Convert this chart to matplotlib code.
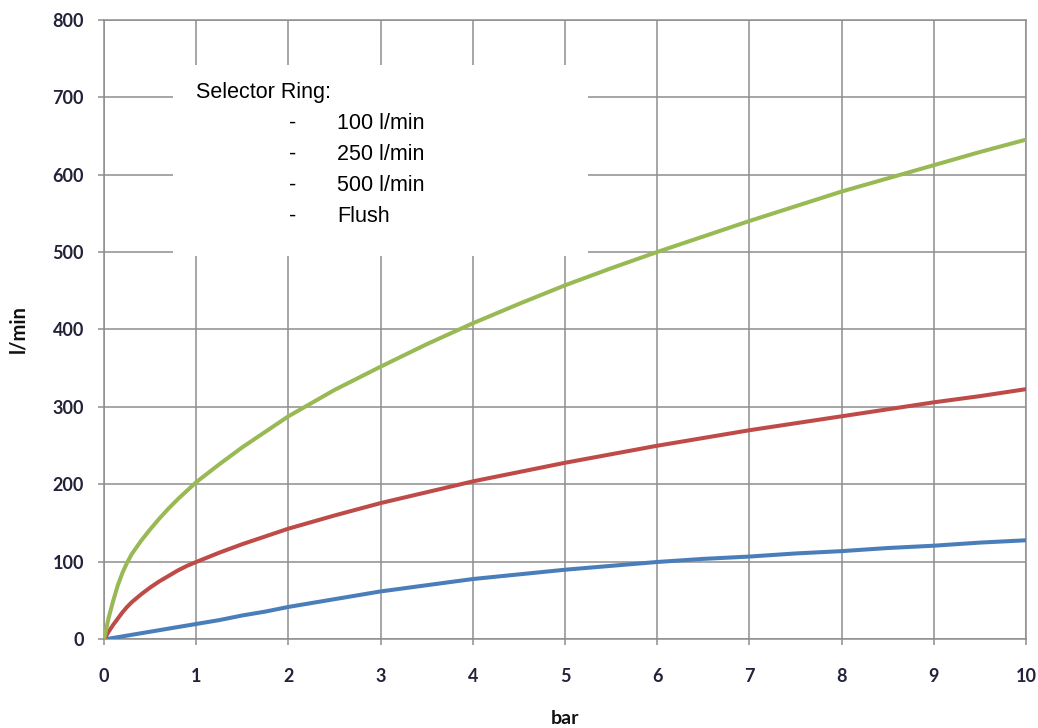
import matplotlib
matplotlib.use("Agg")
import matplotlib.pyplot as plt
from matplotlib.patches import Rectangle

# ---- data ----
x_bar = [0, 0.05, 0.1, 0.15, 0.2, 0.25, 0.3, 0.4, 0.5, 0.6, 0.7, 0.8, 0.9, 1, 1.25, 1.5, 1.75,
         2, 2.5, 3, 3.5, 4, 4.5, 5, 5.5, 6, 6.5, 7, 7.5, 8, 8.5, 9, 9.5, 10]
flow_100 = [0, 1, 2, 3, 4, 5, 6, 8, 10, 12, 14, 16, 18, 20, 25, 31, 36,
            42, 52, 62, 70, 78, 84, 90, 95, 100, 104, 107, 111, 114, 118, 121, 125, 128]
flow_250 = [0, 10, 19, 27, 35, 42, 48, 58, 67, 75, 82, 89, 95, 100, 112, 123, 133,
            143, 160, 176, 190, 204, 216, 228, 239, 250, 260, 270, 279, 288, 297, 306, 314, 323]
flow_500 = [0, 28, 50, 70, 86, 99, 110, 127, 142, 156, 169, 181, 192, 203, 226, 248, 268,
            288, 322, 352, 381, 408, 433, 457, 479, 500, 520, 540, 559, 578, 595, 612, 629, 645]

x_ticks = [0, 1, 2, 3, 4, 5, 6, 7, 8, 9, 10]
y_ticks = [0, 100, 200, 300, 400, 500, 600, 700, 800]

note_title = "Selector Ring:"
note_items = ["100 l/min", "250 l/min", "500 l/min", "Flush"]

colors = ["#4A7EBB", "#BE4B48", "#98B954"]

fig = plt.figure(figsize=(10.38, 7.28), dpi=100)
ax = fig.add_axes([0.1002, 0.1216, 0.8882, 0.8516])

ax.set_xlim(0, 10)
ax.set_ylim(0, 800)
ax.set_xticks(x_ticks)
ax.set_yticks(y_ticks)

grid_col = "#8E8E8E"
ax.grid(True, color=grid_col, linewidth=1.1, zorder=0)
ax.set_axisbelow(True)
for s in ax.spines.values():
    s.set_color(grid_col)
    s.set_linewidth(1.1)

ax.tick_params(axis="both", direction="out", length=4.5, width=1.1, color=grid_col,
               labelsize=13, labelcolor="#22223a")
ax.tick_params(axis="y", pad=10)
ax.tick_params(axis="x", pad=16)
for lab in ax.get_xticklabels() + ax.get_yticklabels():
    lab.set_fontfamily("Lato")
    lab.set_fontweight("bold")

for ys, c in zip([flow_100, flow_250, flow_500], colors):
    ax.plot(x_bar, ys, color=c, linewidth=2.9, solid_capstyle="round",
            solid_joinstyle="round", zorder=3)

ax.set_ylabel("l/min", fontfamily="Lato", fontweight="bold", fontsize=14.5, color="#111111",
              va="center")
ax.yaxis.set_label_coords(-0.0933, 0.5)
ax.set_xlabel("bar", fontfamily="Lato", fontweight="bold", fontsize=14, color="#111111",
              va="center")
ax.xaxis.set_label_coords(0.5, -0.128)

# white note box covering the grid
ax.add_patch(Rectangle((0.0748, 0.6185), 0.4502, 0.3081, transform=ax.transAxes,
                       facecolor="white", edgecolor="none", zorder=2))
ax.text(0.0998, 0.8815, note_title, transform=ax.transAxes, fontfamily="Liberation Sans",
        fontsize=15.5, va="center", ha="left", color="black", zorder=4)
rows_y = [0.833, 0.783, 0.733, 0.683]
for yy, item in zip(rows_y, note_items):
    ax.text(0.205, yy, "-", transform=ax.transAxes, fontfamily="Liberation Sans",
            fontsize=15.5, va="center", ha="center", color="black", zorder=4)
    ax.text(0.2527, yy, item, transform=ax.transAxes, fontfamily="Liberation Sans",
            fontsize=15.5, va="center", ha="left", color="black", zorder=4)

fig.savefig("out.png", dpi=100)
